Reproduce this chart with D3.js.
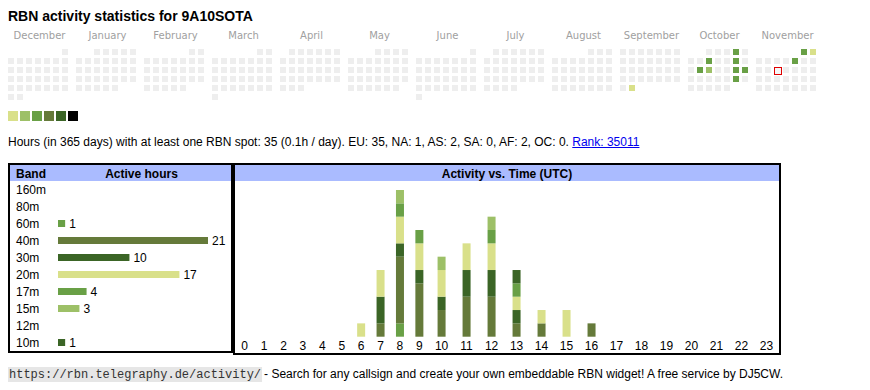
<!DOCTYPE html>
<html>
<head>
<meta charset="utf-8">
<script src="https://cdn.jsdelivr.net/npm/d3@7"></script>
<style>
  html, body { margin: 0; padding: 0; background: #fff; }
  svg { display: block; }
</style>
</head>
<body>
<svg id="chart" width="870" height="390" font-family="'Liberation Sans', Arial, sans-serif"></svg>
<script>
// ---------------- DATA ----------------
const title = "RBN activity statistics for 9A10SOTA";
const monthLabels = ["December","January","February","March","April","May","June","July","August","September","October","November"];
const calendarStart = "2024-12-01";
const calendarEnd = "2025-11-30";
const todayDate = "2025-11-12";
// active days (date, hours)
const activeDays = ["2025-09-30","2025-10-04","2025-10-08","2025-10-11","2025-10-14","2025-10-15","2025-10-18","2025-10-19","2025-10-25","2025-11-01","2025-11-02","2025-11-07"];
const activeDayHours = [1, 4, 3, 4, 3, 2, 4, 3, 3, 4, 1, 3];
const levelThresholds = [2, 3, 6, 10, 20];
const levelColors = ["#d9e08a", "#9dc067", "#69a046", "#657a3a", "#3b6526", "#000000"];

const statsText = "Hours (in 365 days) with at least one RBN spot: 35 (0.1h / day). EU: 35, NA: 1, AS: 2, SA: 0, AF: 2, OC: 0. ";
const rankText = "Rank: 35011";

const bands = ["160m","80m","60m","40m","30m","20m","17m","15m","12m","10m"];
const bandHours = [0, 0, 1, 21, 10, 17, 4, 3, 0, 1];
const bandColors = ["#d9e08a","#9dc067","#69a046","#657a3a","#3b6526","#d9e08a","#69a046","#9dc067","#657a3a","#3b6526"];

const hours = ["0","1","2","3","4","5","6","7","8","9","10","11","12","13","14","15","16","17","18","19","20","21","22","23"];
// active hours per band per UTC hour
const act160m = [0,0,0,0,0,0,0,0,0,0,0,0,0,0,0,0,0,0,0,0,0,0,0,0];
const act80m  = [0,0,0,0,0,0,0,0,0,0,0,0,0,0,0,0,0,0,0,0,0,0,0,0];
const act60m  = [0,0,0,0,0,0,0,0,1,0,0,0,0,0,0,0,0,0,0,0,0,0,0,0];
const act40m  = [0,0,0,0,0,0,0,1,5,4,2,3,3,1,1,0,1,0,0,0,0,0,0,0];
const act30m  = [0,0,0,0,0,0,0,2,1,1,1,2,2,1,0,0,0,0,0,0,0,0,0,0];
const act20m  = [0,0,0,0,0,0,1,2,2,2,2,2,2,1,1,2,0,0,0,0,0,0,0,0];
const act17m  = [0,0,0,0,0,0,0,0,1,1,0,0,1,1,0,0,0,0,0,0,0,0,0,0];
const act15m  = [0,0,0,0,0,0,0,0,1,0,1,0,1,0,0,0,0,0,0,0,0,0,0,0];
const act12m  = [0,0,0,0,0,0,0,0,0,0,0,0,0,0,0,0,0,0,0,0,0,0,0,0];
const act10m  = [0,0,0,0,0,0,0,0,0,0,0,0,0,1,0,0,0,0,0,0,0,0,0,0];

const footerUrl = "https://rbn.telegraphy.de/activity/";
const footerText = " - Search for any callsign and create your own embeddable RBN widget! A free service by DJ5CW.";

// ---------------- DRAW ----------------
const svg = d3.select("#chart");

svg.append("text").attr("x", 8).attr("y", 21)
  .attr("font-size", 14).attr("font-weight", "bold").attr("fill", "#000").text(title);

// Calendar
const parse = d3.timeParse("%Y-%m-%d");
const days = d3.timeDay.range(parse(calendarStart), d3.timeDay.offset(parse(calendarEnd), 1));
const startMonth = d3.timeMonth.floor(parse(calendarStart));
const monthIndex = d => d3.timeMonth.count(startMonth, d3.timeMonth.floor(d));
const weekday = d => (d.getDay() + 6) % 7; // Monday = 0
const weekRow = d => {
  const first = d3.timeMonth.floor(d);
  return Math.floor((d.getDate() - 1 + weekday(first)) / 7);
};
const fmt = d3.timeFormat("%Y-%m-%d");
const dayMap = new Map(activeDays.map((d, i) => [d, activeDayHours[i]]));
const levelScale = d3.scaleThreshold().domain(levelThresholds).range(levelColors);

const monthX = d3.scaleLinear().domain([0, 1]).range([8, 76]);
const colX = d3.scaleLinear().domain([0, 1]).range([0, 9]);
const rowY = d3.scaleLinear().domain([0, 1]).range([49, 58]);

svg.append("g").selectAll("text").data(monthLabels).join("text")
  .attr("x", (d, i) => monthX(i) + 31.5).attr("y", 39)
  .attr("text-anchor", "middle")
  .attr("font-family", "'DejaVu Sans', Verdana, sans-serif")
  .attr("font-size", 10).attr("fill", "#a0a0a0").text(d => d);

svg.append("g").selectAll("rect").data(days).join("rect")
  .attr("x", d => monthX(monthIndex(d)) + colX(weekday(d)))
  .attr("y", d => rowY(weekRow(d)))
  .attr("width", 6).attr("height", 6)
  .attr("fill", d => dayMap.has(fmt(d)) ? levelScale(dayMap.get(fmt(d))) : "#eeeeee");

const today = parse(todayDate);
svg.append("rect")
  .attr("x", monthX(monthIndex(today)) + colX(weekday(today)) + 0.5)
  .attr("y", rowY(weekRow(today)) + 0.5)
  .attr("width", 7).attr("height", 7)
  .attr("fill", "#f6f6f6").attr("stroke", "#e00000").attr("stroke-width", 1);

// Legend
const legX = d3.scaleLinear().domain([0, 1]).range([8, 20]);
svg.append("g").selectAll("rect").data(levelColors).join("rect")
  .attr("x", (d, i) => legX(i)).attr("y", 111).attr("width", 10).attr("height", 10)
  .attr("fill", d => d);

// Stats line
const stats = svg.append("text").attr("x", 8).attr("y", 146).attr("font-size", 12).attr("fill", "#000");
stats.append("tspan").text(statsText);
const rank = stats.append("tspan").attr("fill", "#0000ee").text(rankText);
{
  const full = stats.node().getComputedTextLength();
  const rl = rank.node().getComputedTextLength();
  svg.append("line").attr("x1", 8 + full - rl).attr("x2", 8 + full)
    .attr("y1", 147.5).attr("y2", 147.5).attr("stroke", "#0000ee").attr("stroke-width", 1);
}

// Left table: bands
const left = { x0: 8, x1: 233, y0: 163, y1: 353 };
svg.append("rect").attr("x", left.x0 + 2).attr("y", left.y0 + 2)
  .attr("width", left.x1 - left.x0 - 4).attr("height", 16).attr("fill", "#aabbff");
svg.append("text").attr("x", 16).attr("y", 177.5).attr("font-size", 12).attr("font-weight", "bold").text("Band");
svg.append("text").attr("x", 141.5).attr("y", 177.5).attr("font-size", 12).attr("font-weight", "bold")
  .attr("text-anchor", "middle").text("Active hours");

const rowScale = d3.scaleBand().domain(bands).range([181, 351]);
const hourWidth = d3.scaleLinear().domain([0, d3.max(bandHours)]).range([0, 150]);
const bandRows = svg.append("g").selectAll("g").data(bands).join("g")
  .attr("transform", d => `translate(0,${rowScale(d) + rowScale.bandwidth() / 2})`);
bandRows.append("text").attr("x", 16).attr("y", 4.3).attr("font-size", 12).text(d => d);
bandRows.filter((d, i) => bandHours[i] > 0).append("rect")
  .attr("x", 58).attr("y", -3.5).attr("height", 7)
  .attr("width", d => hourWidth(bandHours[bands.indexOf(d)]))
  .attr("fill", d => bandColors[bands.indexOf(d)]);
bandRows.filter((d, i) => bandHours[i] > 0).append("text")
  .attr("x", d => 58 + hourWidth(bandHours[bands.indexOf(d)]) + 4)
  .attr("y", 4.3).attr("font-size", 12)
  .text(d => bandHours[bands.indexOf(d)]);

svg.append("rect").attr("x", left.x0 + 1).attr("y", left.y0 + 1)
  .attr("width", left.x1 - left.x0 - 2).attr("height", left.y1 - left.y0 - 2)
  .attr("fill", "none").attr("stroke", "#000").attr("stroke-width", 2);

// Right table: activity vs time
const right = { x0: 233, x1: 781, y0: 163, y1: 355 };
svg.append("rect").attr("x", right.x0 + 2).attr("y", right.y0 + 2)
  .attr("width", right.x1 - right.x0 - 4).attr("height", 16).attr("fill", "#aabbff");
svg.append("text").attr("x", (right.x0 + right.x1) / 2).attr("y", 177.5).attr("font-size", 12)
  .attr("font-weight", "bold").attr("text-anchor", "middle").text("Activity vs. Time (UTC)");

// non-uniform columns (like an auto-layout table): width ~ label length + padding
const colWeights = hours.map(h => h.length * 6.67 + 16.5);
const cum = d3.cumsum(colWeights);
const colPos = d3.scaleLinear().domain([0, cum[cum.length - 1]]).range([right.x0 + 2, right.x1 - 2]);
const hourX = d3.scaleOrdinal().domain(hours)
  .range(hours.map((h, i) => colPos(cum[i] - colWeights[i] / 2)));

const actSeries = [act160m, act80m, act60m, act40m, act30m, act20m, act17m, act15m, act12m, act10m];
const table = hours.map((h, i) => {
  const row = { hour: h };
  bands.forEach((b, j) => row[b] = actSeries[j][i]);
  return row;
});
const stack = d3.stack().keys(bands)(table);
const totalMax = d3.max(table, r => d3.sum(bands, b => r[b]));
const y = d3.scaleLinear().domain([0, totalMax]).range([336.7, 190]);

svg.append("g").selectAll("g").data(stack).join("g")
  .attr("fill", d => bandColors[bands.indexOf(d.key)])
  .selectAll("rect").data(d => d.filter(s => s[1] > s[0])).join("rect")
  .attr("x", d => hourX(d.data.hour) - 4).attr("width", 8)
  .attr("y", d => y(d[1])).attr("height", d => y(d[0]) - y(d[1]));

svg.append("g").selectAll("text").data(hours).join("text")
  .attr("x", d => hourX(d)).attr("y", 350).attr("text-anchor", "middle")
  .attr("font-size", 12).text(d => d);

svg.append("rect").attr("x", right.x0 + 1).attr("y", right.y0 + 1)
  .attr("width", right.x1 - right.x0 - 2).attr("height", right.y1 - right.y0 - 2)
  .attr("fill", "none").attr("stroke", "#000").attr("stroke-width", 2);

// Footer
const footer = svg.append("g");
const urlBg = footer.append("rect").attr("x", 8).attr("y", 367).attr("height", 15).attr("fill", "#e6e6e6");
const urlText = footer.append("text").attr("x", 9).attr("y", 378)
  .attr("font-family", "'Liberation Mono', 'DejaVu Sans Mono', monospace")
  .attr("font-size", 12).attr("fill", "#333").text(footerUrl);
const uw = urlText.node().getComputedTextLength();
urlBg.attr("width", uw + 2);
footer.append("text").attr("x", 8 + uw + 4).attr("y", 378)
  .attr("font-size", 12).attr("fill", "#000").text(footerText);
</script>
</body>
</html>
